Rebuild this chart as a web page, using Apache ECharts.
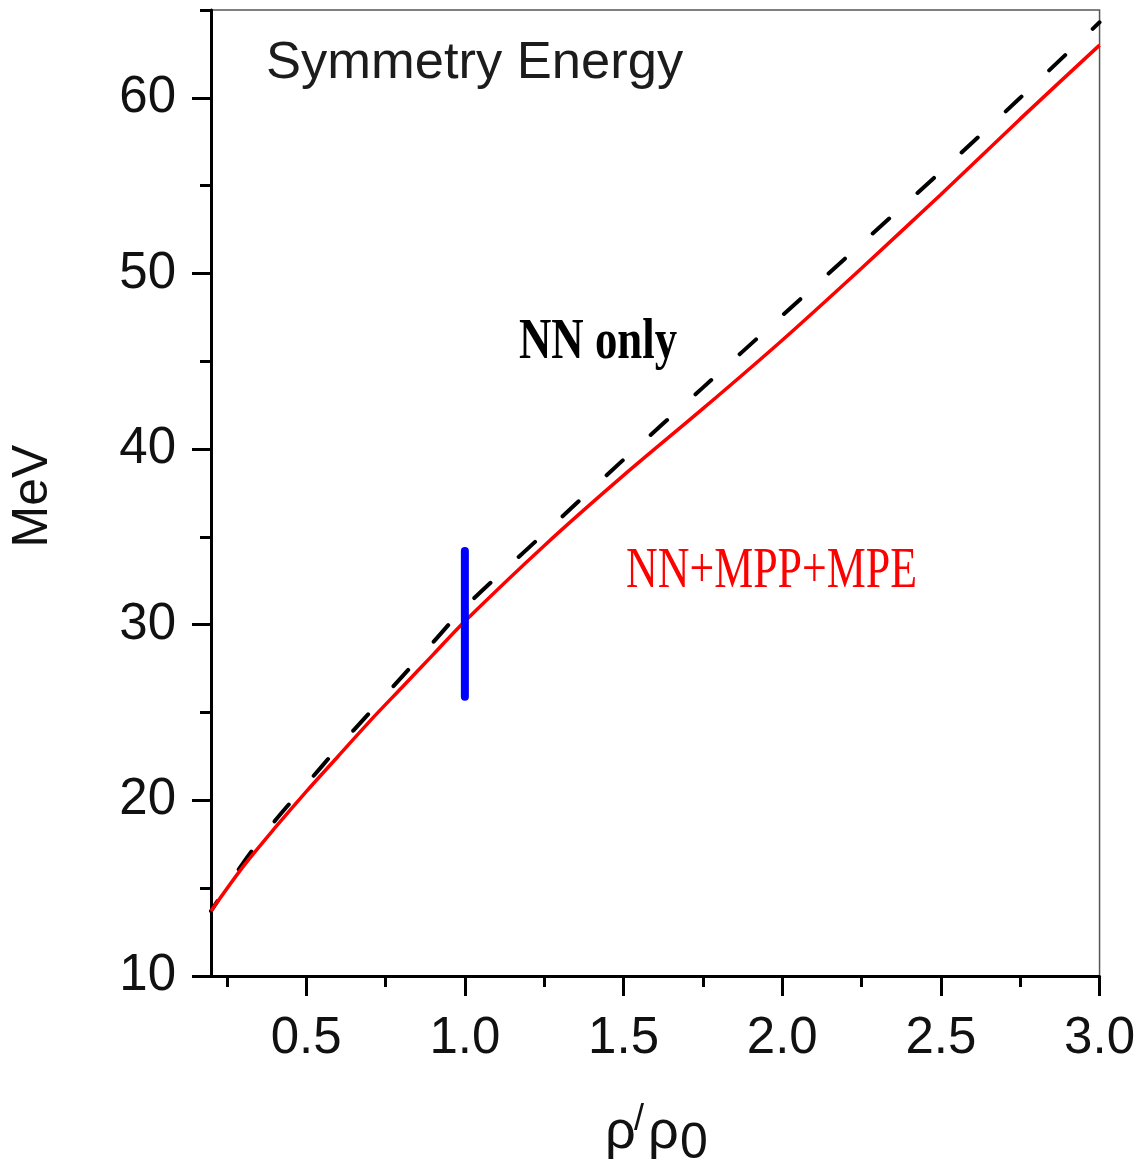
<!DOCTYPE html>
<html><head><meta charset="utf-8">
<script src="https://cdn.jsdelivr.net/npm/echarts@6/dist/echarts.min.js"></script>
<style>html,body{margin:0;padding:0;background:#fff}#c{width:1138px;height:1162px}</style>
</head><body><div id="c"></div><script>
// density rho/rho0
const density   = [0.2, 0.3, 0.4, 0.5, 0.6, 0.7, 0.8, 0.9, 1.0, 1.25, 1.5, 1.75, 2.0, 2.25, 2.5, 2.75, 3.0];
// NN only (black dashed)
const nnOnly    = [13.7, 16.4, 18.8, 20.9, 23.0, 25.0, 27.0, 29.0, 31.0, 35.2, 39.4, 43.5, 47.6, 51.7, 55.8, 60.0, 64.3];
// NN+MPP+MPE (red)
const nnMppMpe  = [13.7, 16.2, 18.4, 20.5, 22.5, 24.5, 26.4, 28.3, 30.2, 34.5, 38.5, 42.3, 46.2, 50.3, 54.5, 58.8, 63.0];
// empirical band at saturation density (blue bar)
const barX = [1.0, 1.0];
const barY = [25.9, 34.2];
const xMajorTicks = [0.5, 1.0, 1.5, 2.0, 2.5, 3.0];
const xMinorTicks = [0.25, 0.75, 1.25, 1.75, 2.25, 2.75];
const yMajorTicks = [10, 20, 30, 40, 50, 60];
const yMinorTicks = [15, 25, 35, 45, 55, 65];

const zip = (a, b) => a.map((v, i) => [v, b[i]]);
const chart = echarts.init(document.getElementById('c'), null, {renderer: 'canvas'});
const sans = 'Liberation Sans, Arial, sans-serif';
const serif = 'Liberation Serif, Times New Roman, serif';

chart.setOption({
  animation: false,
  backgroundColor: '#fff',
  grid: {left: 211, right: 37, top: 10, bottom: 186, show: true, borderColor: '#555', borderWidth: 1.5, backgroundColor: 'transparent'},
  xAxis: [
    {type: 'value', min: 0.2, max: 3.0, position: 'bottom',
     axisLine: {show: true, onZero: false, lineStyle: {color: '#000', width: 3}},
     axisTick: {show: true, customValues: xMajorTicks, length: 20, lineStyle: {color: '#000', width: 3}},
     axisLabel: {customValues: xMajorTicks, formatter: v => v.toFixed(1), fontSize: 51, color: '#111', margin: 37, fontFamily: sans},
     splitLine: {show: false}},
    {type: 'value', min: 0.2, max: 3.0, position: 'bottom',
     axisLine: {show: false, onZero: false},
     axisTick: {show: true, customValues: xMinorTicks, length: 11, lineStyle: {color: '#000', width: 3}},
     axisLabel: {show: false}, splitLine: {show: false}}
  ],
  yAxis: [
    {type: 'value', min: 10, max: 65, position: 'left',
     axisLine: {show: true, onZero: false, lineStyle: {color: '#000', width: 3}},
     axisTick: {show: true, customValues: yMajorTicks, length: 19, lineStyle: {color: '#000', width: 3}},
     axisLabel: {customValues: yMajorTicks, fontSize: 51, color: '#111', margin: 35, fontFamily: sans},
     splitLine: {show: false}},
    {type: 'value', min: 10, max: 65, position: 'left',
     axisLine: {show: false, onZero: false},
     axisTick: {show: true, customValues: yMinorTicks, length: 11, lineStyle: {color: '#000', width: 3}},
     axisLabel: {show: false}, splitLine: {show: false}}
  ],
  series: [
    {name: 'NN only', type: 'line', data: zip(density, nnOnly), smooth: 0.3, showSymbol: false, silent: true,
     lineStyle: {color: '#000', width: 4, type: [22, 38], dashOffset: 10, cap: 'round'}},
    {name: 'NN+MPP+MPE', type: 'line', data: zip(density, nnMppMpe), smooth: 0.3, showSymbol: false, silent: true,
     lineStyle: {color: '#ff0000', width: 3.5}},
    {name: 'band', type: 'line', data: zip(barX, barY), showSymbol: false, silent: true,
     lineStyle: {color: '#0000ff', width: 8, cap: 'round'}}
  ],
  graphic: [
    {type: 'text', left: 266, top: 37, style: {text: 'Symmetry Energy', font: '52.5px ' + sans, fill: '#1c1c1c'}},
    {type: 'text', x: 519, y: 344, scaleX: 0.8, style: {text: 'NN only', font: 'bold 56px ' + serif, fill: '#000', align: 'left', verticalAlign: 'middle'}},
    {type: 'text', x: 626, y: 572, scaleX: 0.77, style: {text: 'NN+MPP+MPE', font: '57px ' + serif, fill: '#ff0000', align: 'left', verticalAlign: 'middle'}},
    {type: 'text', x: 33, y: 496, rotation: Math.PI / 2, style: {text: 'MeV', font: '50px ' + sans, fill: '#111', align: 'center', verticalAlign: 'middle'}},
    {type: 'text', x: 605, y: 1133, style: {text: 'ρ', font: '54px ' + sans, fill: '#111', align: 'left', verticalAlign: 'middle'}},
    {type: 'text', x: 634, y: 1120, style: {text: '/', font: '36px ' + sans, fill: '#111', align: 'left', verticalAlign: 'middle'}},
    {type: 'text', x: 648, y: 1133, style: {text: 'ρ', font: '54px ' + sans, fill: '#111', align: 'left', verticalAlign: 'middle'}},
    {type: 'text', x: 680, y: 1144, style: {text: '0', font: '50px ' + sans, fill: '#111', align: 'left', verticalAlign: 'middle'}}
  ]
});
</script></body></html>
